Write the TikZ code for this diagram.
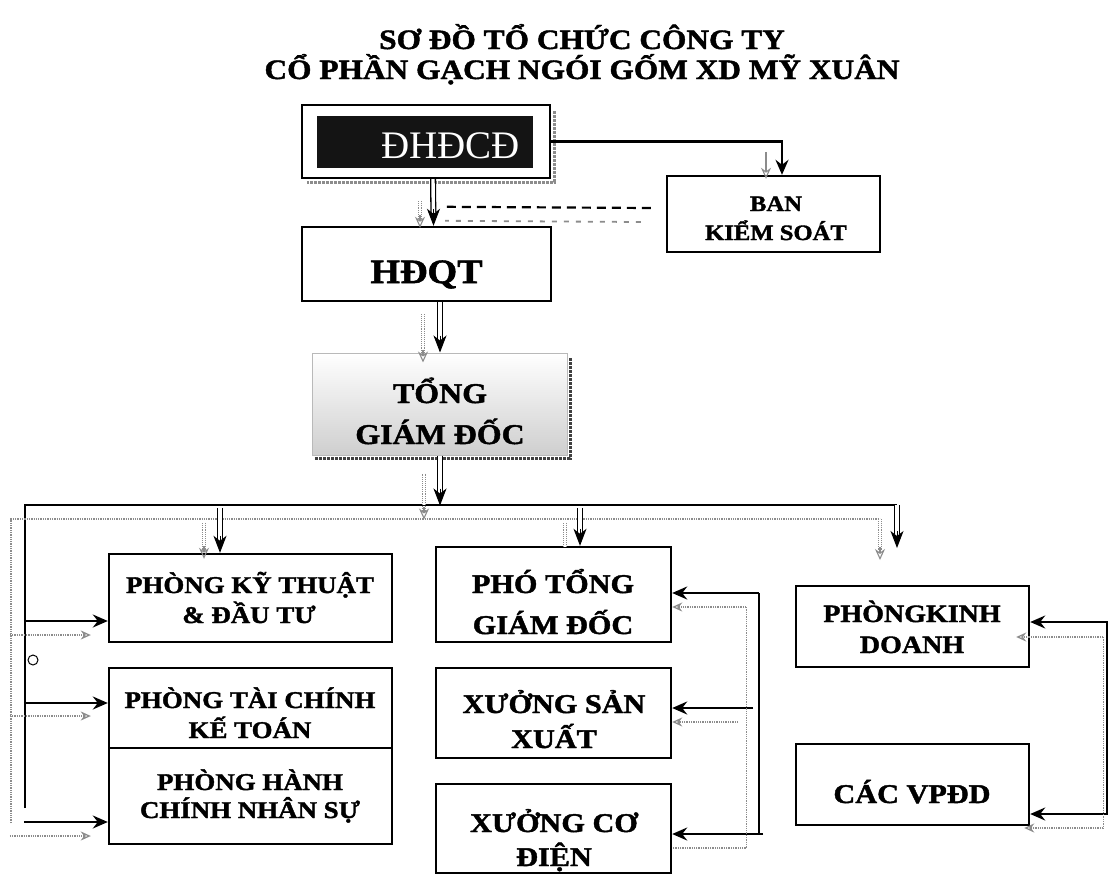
\documentclass[tikz,border=0pt]{standalone}
\usepackage{fontspec}
\setmainfont{Liberation Serif}[FakeStretch=1.12, BoldFeatures={FakeBold=1.6}]
\newfontfamily\plainserif{Liberation Serif}
\usetikzlibrary{arrows.meta,calc}
\definecolor{shadowgray}{gray}{0.55}
\begin{document}
\begin{tikzpicture}[x=1pt,y=-1pt,
  bx/.style={draw, line width=2.4pt, inner sep=0pt},
  lbl/.style={anchor=base, inner sep=0pt, font=\bfseries\fontsize{#1}{#1}\selectfont},
  lbl/.default=24,
  blk/.style={line width=2.2pt},
  ar/.style={blk, -{Stealth[length=15pt,width=13pt,inset=5pt]}},
  dbl/.style={double, double distance=3.4pt, line width=1.3pt},
  tipd/.style={line width=1pt, -{Stealth[length=17pt,width=13pt,inset=5pt]}},
  gln/.style={shadowgray, line width=1.3pt, densely dotted},
  gar/.style={gln, -{Stealth[open,length=10pt,width=9pt]}},
  gdbl/.style={shadowgray, double=white, double distance=2.4pt, line width=0.9pt, densely dotted},
  gtip/.style={shadowgray, line width=1.1pt, -{Stealth[open,length=11pt,width=10pt]}},
  shad/.style={line width=3pt, densely dotted}
]
\useasboundingbox (0,0) rectangle (1108,875);

% title
\node[lbl=28] (title1) at (582,49) {SƠ ĐỒ TỔ CHỨC CÔNG TY};
\node[lbl=28] (title2) at (582,79) {CỔ PHẦN GẠCH NGÓI GỐM XD MỸ XUÂN};

% boxes
\draw[shad, shadowgray] (554,111) -- (554,182) -- (307,182);
\node[bx, fill=white, minimum width=248pt, minimum height=73pt] (dh) at (426,141.5) {};
\node[fill=black!92, inner sep=0pt, minimum width=216pt, minimum height=52pt] (dhin) at (425,142) {};
\node[anchor=base, inner sep=0pt, text=white, font=\plainserif\fontsize{39}{39}\selectfont] (dht) at (450.5,158) {ĐHĐCĐ};

\node[bx, minimum width=213pt, minimum height=76pt] (ks) at (773.5,214) {};
\node[lbl=22] (ks1) at (776,211) {BAN};
\node[lbl=22] (ks2) at (776,240) {KIỂM SOÁT};

\node[bx, minimum width=249pt, minimum height=74pt] (hq) at (426.5,264) {};
\node[lbl=34] (hqt) at (426.5,283) {HĐQT};

\draw[shad, black!75] (315,458) -- (570,458) -- (570,357);
\node[draw=gray!55, line width=1pt, inner sep=0pt, top color=white, bottom color=gray!38,
      minimum width=255pt, minimum height=102pt] (tgd) at (439.5,404) {};
\node[lbl=28.5] (tg1) at (440,403) {TỔNG};
\node[lbl=28.5] (tg2) at (440,444) {GIÁM ĐỐC};

\node[bx, minimum width=283pt, minimum height=88pt] (kt) at (250.5,598) {};
\node[lbl=24] (kt1) at (250,593) {PHÒNG KỸ THUẬT};
\node[lbl=24] (kt2) at (249,623) {\& ĐẦU TƯ};

\node[bx, minimum width=283pt, minimum height=80pt] (tc) at (250.5,708) {};
\node[lbl=24] (tc1) at (250,708) {PHÒNG TÀI CHÍNH};
\node[lbl=24] (tc2) at (250,738) {KẾ TOÁN};

\node[bx, minimum width=283pt, minimum height=96pt] (hc) at (250.5,796) {};
\node[lbl=24] (hc1) at (250,790) {PHÒNG HÀNH};
\node[lbl=24] (hc2) at (250,818) {CHÍNH NHÂN SỰ};

\node[bx, minimum width=235pt, minimum height=95pt] (pt) at (553.5,594.5) {};
\node[lbl=27] (pt1) at (553,593) {PHÓ TỔNG};
\node[lbl=27] (pt2) at (553,634) {GIÁM ĐỐC};

\node[bx, minimum width=235pt, minimum height=90pt] (sx) at (553.5,713) {};
\node[lbl=27] (sx1) at (554,713) {XƯỞNG SẢN};
\node[lbl=27] (sx2) at (554,748) {XUẤT};

\node[bx, minimum width=235pt, minimum height=89pt] (cd) at (553.5,828.5) {};
\node[lbl=27] (cd1) at (554,832) {XƯỞNG CƠ};
\node[lbl=27] (cd2) at (554,866) {ĐIỆN};

\node[bx, minimum width=233pt, minimum height=81pt] (kd) at (912.5,626.5) {};
\node[lbl=25] (kd1) at (912,622) {PHÒNGKINH};
\node[lbl=25] (kd2) at (912,653) {DOANH};

\node[bx, minimum width=233pt, minimum height=81pt] (vp) at (912.5,784.5) {};
\node[lbl=27] (vp1) at (912,803) {CÁC VPĐD};

% ĐHĐCĐ -> Ban kiểm soát
\draw[ar] (dh.east) -| ($(ks.north)+(8.5,0)$);
\draw[gtip] ($(ks.north)+(-7.5,-23)$) -- ($(ks.north)+(-7.5,4)$);

% ĐHĐCĐ -> HĐQT
\draw[dbl, shorten >=14pt] ($(dh.south)+(7,0)$) -- ($(hq.north)+(7,0)$);
\draw[tipd] ($(hq.north)+(7,-17)$) -- ($(hq.north)+(7,0)$);
\draw[gdbl, shorten >=9pt] ($(hq.north)+(-6.5,-25)$) -- ($(hq.north)+(-6.5,2)$);
\draw[gtip] ($(hq.north)+(-6.5,-11)$) -- ($(hq.north)+(-6.5,2)$);

% Ban kiểm soát dashed links
\draw[line width=2.2pt, dash pattern=on 9pt off 6pt] ($(ks.west)+(-15,-6)$) -- ($(hq.north)+(18.5,-19)$);
\draw[shadowgray, line width=1.8pt, dash pattern=on 5pt off 7pt] ($(ks.west)+(-25,8)$) -- ($(hq.north)+(18.5,-5)$);

% HĐQT -> Tổng giám đốc
\draw[dbl, shorten >=14pt] ($(hq.south)+(13.5,0)$) -- ($(tgd.north)+(0.5,0)$);
\draw[tipd] ($(tgd.north)+(0.5,-17)$) -- ($(tgd.north)+(0.5,0)$);
\draw[gdbl, shorten >=9pt] ($(hq.south)+(-3.5,12)$) -- ($(tgd.north)+(-16.5,10)$);
\draw[gtip] ($(tgd.north)+(-16.5,-3)$) -- ($(tgd.north)+(-16.5,10)$);

% buses
\coordinate (busL) at (25,505);
\coordinate (busR) at (897,505);
\coordinate (busLb) at (25,808);
\coordinate (gbusL) at (11,519);
\coordinate (gbusR) at (880,519);
\coordinate (gbusLb) at (11,823);
\coordinate (kdin) at (897,548);
\coordinate (gkdin) at (880,560);

\draw[blk] (busLb) -- (busL) -- (busR);
\draw[gln] (gbusLb) -- (gbusL) -- (gbusR);

% Tổng giám đốc -> bus
\draw[dbl, shorten >=14pt] ($(tgd.south)+(0.5,0)$) -- ($(tgd.south)+(0.5,50)$);
\draw[tipd] ($(tgd.south)+(0.5,33)$) -- ($(tgd.south)+(0.5,50)$);
\draw[gdbl, shorten >=9pt] ($(tgd.south)+(-15.5,18)$) -- ($(tgd.south)+(-15.5,64)$);
\draw[gtip] ($(tgd.south)+(-15.5,51)$) -- ($(tgd.south)+(-15.5,64)$);

% bus -> Phòng kinh doanh
\draw[dbl, shorten >=14pt] (busR) -- (kdin);
\draw[tipd] ($(kdin)+(0,-17)$) -- (kdin);
\draw[gdbl, shorten >=9pt] (gbusR) -- (gkdin);
\draw[gtip] ($(gkdin)+(0,-13)$) -- (gkdin);

% bus -> Phòng kỹ thuật
\draw[dbl, shorten >=14pt] ($(kt.north)+(-30.5,-45)$) -- ($(kt.north)+(-30.5,0)$);
\draw[tipd] ($(kt.north)+(-30.5,-17)$) -- ($(kt.north)+(-30.5,0)$);
\draw[gdbl, shorten >=9pt] ($(kt.north)+(-46.5,-30)$) -- ($(kt.north)+(-46.5,6)$);
\draw[gtip] ($(kt.north)+(-46.5,-7)$) -- ($(kt.north)+(-46.5,6)$);

% bus -> Phó tổng giám đốc
\draw[dbl, shorten >=14pt] ($(pt.north)+(26.5,-38)$) -- ($(pt.north)+(26.5,0)$);
\draw[tipd] ($(pt.north)+(26.5,-17)$) -- ($(pt.north)+(26.5,0)$);
\draw[gdbl] ($(pt.north)+(11.5,-23)$) -- ($(pt.north)+(11.5,0)$);

% left branch arrows
\draw[ar] ($(kt.west)+(-84,23)$) -- ($(kt.west)+(0,23)$);
\draw[ar] ($(tc.west)+(-84,-5)$) -- ($(tc.west)+(0,-5)$);
\draw[ar] ($(hc.west)+(-84,26)$) -- ($(hc.west)+(0,26)$);
\draw[gar] ($(kt.west)+(-98,37)$) -- ($(kt.west)+(-17,37)$);
\draw[gar] ($(tc.west)+(-98,8)$) -- ($(tc.west)+(-17,8)$);
\draw[gar] ($(hc.west)+(-98,40)$) -- ($(hc.west)+(-17,40)$);
\draw[line width=1pt] (33,660) circle[radius=5pt];

% middle feedback
\draw[blk] ($(pt.east)+(87,-1.5)$) -- ($(cd.east)+(87,5.5)$);
\draw[ar] ($(pt.east)+(87,-1.5)$) -- ($(pt.east)+(0,-1.5)$);
\draw[ar] ($(sx.east)+(81,-5)$) -- ($(sx.east)+(0,-5)$);
\draw[ar] ($(cd.east)+(91,5.5)$) -- ($(cd.east)+(0,5.5)$);
\draw[gln] ($(pt.east)+(74,12.5)$) -- ($(cd.east)+(74,19.5)$) -- ($(cd.east)+(0,19.5)$);
\draw[gar] ($(pt.east)+(74,12.5)$) -- ($(pt.east)+(0,12.5)$);
\draw[gar] ($(sx.east)+(66,9)$) -- ($(sx.east)+(0,9)$);

% right feedback
\draw[blk] ($(kd.east)+(77,-4.5)$) -- ($(vp.east)+(77,29.5)$);
\draw[ar] ($(kd.east)+(79,-4.5)$) -- ($(kd.east)+(0,-4.5)$);
\draw[ar] ($(vp.east)+(79,29.5)$) -- ($(vp.east)+(0,29.5)$);
\draw[gln] ($(kd.east)+(73,10.5)$) -- ($(vp.east)+(73,43.5)$);
\draw[gar] ($(kd.east)+(73,10.5)$) -- ($(kd.east)+(-14,10.5)$);
\draw[gar] ($(vp.east)+(73,43.5)$) -- ($(vp.east)+(-6,43.5)$);
\end{tikzpicture}
\end{document}
